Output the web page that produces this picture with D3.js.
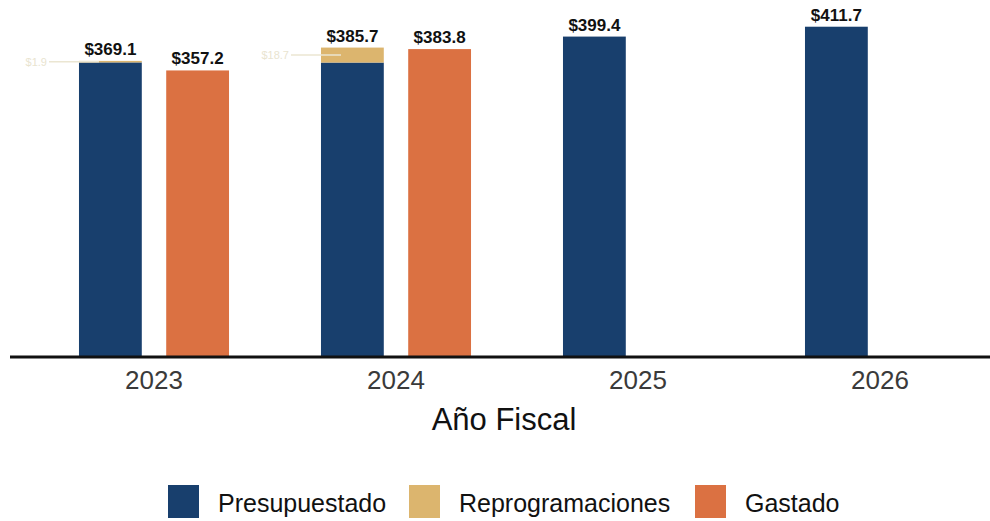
<!DOCTYPE html>
<html>
<head>
<meta charset="utf-8">
<script src="https://cdn.jsdelivr.net/npm/d3@7"></script>
<style>
  body { margin: 0; background: #fff; }
  text { font-family: "Liberation Sans", Arial, sans-serif; }
</style>
</head>
<body>
<script>
// Data (millions)
const years = ['2023', '2024', '2025', '2026'];
const presupuestado = [367.2, 367.0, 399.4, 411.7];
const reprogramaciones = [1.9, 18.7, 0, 0];
const gastado = [357.2, 383.8, null, null];
const totalLabels = ['$369.1', '$385.7', '$399.4', '$411.7'];
const gastadoLabels = ['$357.2', '$383.8', null, null];
const reprogLabels = ['$1.9', '$18.7', null, null];

const legendNames = ['Presupuestado', 'Reprogramaciones', 'Gastado'];
const colors = {Presupuestado: '#183f6d', Reprogramaciones: '#dcb56e', Gastado: '#db7142'};

const W = 990, H = 521;
const svg = d3.select('body').append('svg')
    .attr('width', W)
    .attr('height', H);

const x = d3.scaleBand()
    .domain(years)
    .range([33, 1001])
    .paddingInner(0.38)
    .paddingOuter(0.19);

const xSub = d3.scaleBand()
    .domain(['Presupuestado', 'Gastado'])
    .range([0, x.bandwidth()])
    .paddingInner(0.28);

const y = d3.scaleLinear()
    .domain([0, 445])
    .range([357, 0]);

const rows = years.map((yr, i) => ({
    year: yr,
    pres: presupuestado[i],
    rep: reprogramaciones[i],
    gas: gastado[i],
    total: totalLabels[i],
    gasLabel: gastadoLabels[i],
    repLabel: reprogLabels[i]
}));

const g = svg.append('g');

// Presupuestado
g.selectAll('.pres')
    .data(rows)
    .enter().append('rect')
    .attr('class', 'pres')
    .attr('x', d => x(d.year) + xSub('Presupuestado'))
    .attr('width', xSub.bandwidth())
    .attr('y', d => y(d.pres))
    .attr('height', d => y(0) - y(d.pres))
    .attr('fill', colors.Presupuestado);

// Reprogramaciones stacked on top
g.selectAll('.rep')
    .data(rows.filter(d => d.rep > 0))
    .enter().append('rect')
    .attr('class', 'rep')
    .attr('x', d => x(d.year) + xSub('Presupuestado'))
    .attr('width', xSub.bandwidth())
    .attr('y', d => y(d.pres + d.rep))
    .attr('height', d => y(d.pres) - y(d.pres + d.rep))
    .attr('fill', colors.Reprogramaciones);

// Gastado
g.selectAll('.gas')
    .data(rows.filter(d => d.gas != null))
    .enter().append('rect')
    .attr('class', 'gas')
    .attr('x', d => x(d.year) + xSub('Gastado'))
    .attr('width', xSub.bandwidth())
    .attr('y', d => y(d.gas))
    .attr('height', d => y(0) - y(d.gas))
    .attr('fill', colors.Gastado);

// faint reprogramaciones labels (washed out in the scan)
const faint = g.selectAll('.faint')
    .data(rows.filter(d => d.repLabel))
    .enter().append('g');
faint.append('line')
    .attr('x1', d => x(d.year) + xSub('Presupuestado') - 30)
    .attr('x2', d => x(d.year) + xSub('Presupuestado') + 20)
    .attr('y1', d => y(d.pres + d.rep / 2))
    .attr('y2', d => y(d.pres + d.rep / 2))
    .attr('stroke', '#ebe6d2')
    .attr('stroke-width', 1.5);
faint.append('text')
    .attr('x', d => x(d.year) + xSub('Presupuestado') - 32)
    .attr('y', d => y(d.pres + d.rep / 2) + 4)
    .attr('text-anchor', 'end')
    .attr('font-size', 11)
    .attr('fill', '#e9e4d0')
    .text(d => d.repLabel);

// Value labels
g.selectAll('.tot')
    .data(rows)
    .enter().append('text')
    .attr('x', d => x(d.year) + xSub('Presupuestado') + xSub.bandwidth() / 2)
    .attr('y', d => y(d.pres + d.rep) - 6)
    .attr('text-anchor', 'middle')
    .attr('font-size', 17)
    .attr('font-weight', 'bold')
    .attr('fill', '#111')
    .text(d => d.total);

g.selectAll('.gl')
    .data(rows.filter(d => d.gasLabel))
    .enter().append('text')
    .attr('x', d => x(d.year) + xSub('Gastado') + xSub.bandwidth() / 2)
    .attr('y', d => y(d.gas) - 6)
    .attr('text-anchor', 'middle')
    .attr('font-size', 17)
    .attr('font-weight', 'bold')
    .attr('fill', '#111')
    .text(d => d.gasLabel);

// X axis
const xAxis = svg.append('g')
    .attr('transform', `translate(0,${y(0)})`)
    .call(d3.axisBottom(x).tickSize(0).tickPadding(14));
xAxis.select('.domain').remove();
xAxis.selectAll('text')
    .attr('font-size', 26)
    .attr('fill', '#3a3a3a')
    .style('font-family', '"Liberation Sans", Arial, sans-serif');

svg.append('line')
    .attr('x1', 10).attr('x2', 990)
    .attr('y1', y(0)).attr('y2', y(0))
    .attr('stroke', '#111')
    .attr('stroke-width', 3);

svg.append('text')
    .attr('x', 504)
    .attr('y', 430)
    .attr('text-anchor', 'middle')
    .attr('font-size', 31)
    .attr('fill', '#111')
    .text('Año Fiscal');

// Legend
const legendX = [168, 409, 695];
const legend = svg.selectAll('.leg')
    .data(legendNames)
    .enter().append('g')
    .attr('transform', (d, i) => `translate(${legendX[i]},485)`);
legend.append('rect')
    .attr('width', 31)
    .attr('height', 33)
    .attr('fill', d => colors[d]);
legend.append('text')
    .attr('x', 50)
    .attr('y', 27)
    .attr('font-size', 25)
    .attr('fill', '#111')
    .text(d => d);
</script>
</body>
</html>
